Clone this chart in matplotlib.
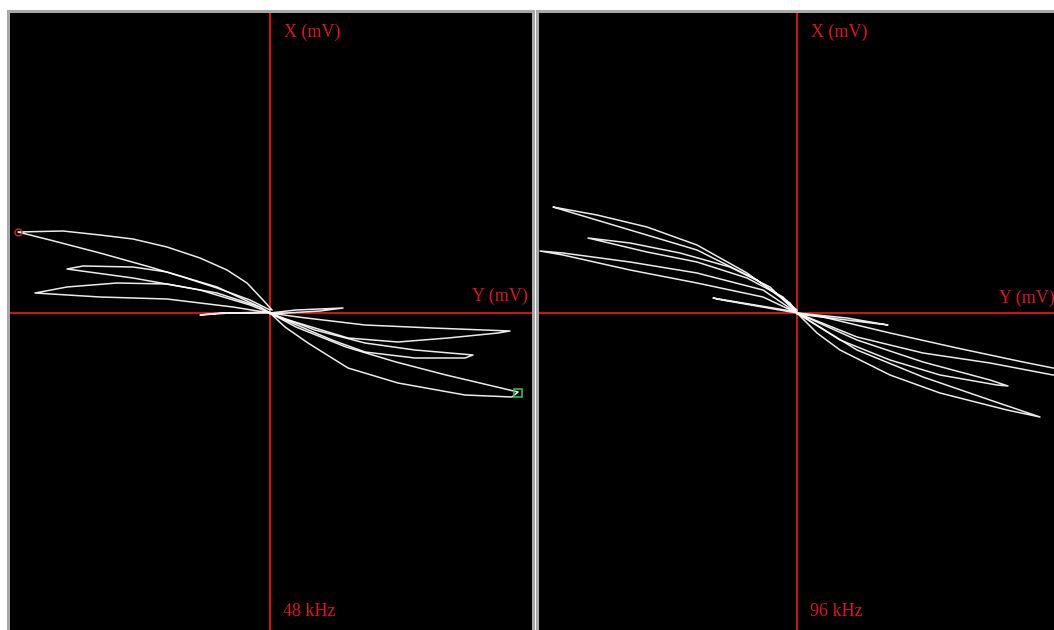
import matplotlib
matplotlib.use("Agg")
import matplotlib.pyplot as plt

# ---- data (mV) ----
# Left panel (48 kHz): loops traced by the XY display
left_loops_x = [
    [0.2, -0.7, -2.3, -4.3, -7.0, -10.3, -13.7, -17.0, -20.7, -25.2,
     -22.0, -17.0, -12.0, -8.7, -5.3, -2.0, 0],
    [0, -1.0, -5.3, -10.3, -13.7, -18.7, -20.3, -13.7, -7.0, -2.0, 0],
    [0, -1.0, -5.3, -10.3, -15.3, -20.3, -23.5, -17.0, -10.3, -3.7, 0],
    [0, -5.0, -7.0, -4.0, 0],
    [0, 2.6, 7.3, 5.0, 0],
    [0, 2.8, 9.5, 16.2, 24.0, 22.8, 17.8, 12.8, 7.8, 3.5, 0.8, 0],
    [0, 4.5, 9.5, 14.5, 20.3, 19.5, 14.5, 9.5, 6.2, 2.2, 0],
    [0, 2.6, 7.6, 12.6, 17.6, 24.8, 24.2, 19.5, 12.8, 7.8, 3.8, 1.5, 0],
]
left_loops_y = [
    [0.3, 1.3, 3.0, 4.3, 5.5, 6.6, 7.4, 7.8, 8.2, 8.1,
     7.3, 6.0, 4.6, 3.6, 2.5, 1.3, 0.3],
    [0, 0.6, 2.6, 4.1, 4.6, 4.7, 4.4, 3.5, 2.3, 0.8, 0],
    [0, 0.6, 2.0, 2.9, 3.0, 2.6, 2.0, 1.6, 1.4, 0.6, 0],
    [0, 0.0, -0.2, 0.0, 0.1],
    [0, 0.3, 0.5, 0.2, -0.1],
    [0, -0.4, -1.2, -1.5, -1.8, -2.0, -2.5, -2.9, -2.5, -1.2, -0.4, 0],
    [0, -1.7, -3.0, -3.7, -4.2, -4.5, -4.5, -3.9, -2.7, -1.0, 0],
    [0, -1.4, -3.4, -4.9, -6.2, -7.9, -8.4, -8.2, -7.0, -5.5, -3.0, -1.4, 0],
]
left_start = (-25.2, 8.1)   # red circle marker
left_end = (24.8, -8.0)     # green square marker

# Right panel (96 kHz)
right_loops_x = [
    [0, -1.7, -5.0, -10.0, -15.0, -20.0, -24.4, -23.4, -16.7, -10.0, -4.0, -0.7, 0],
    [0, -2.7, -6.7, -11.7, -16.7, -20.9, -15.0, -10.0, -5.0, -1.4, 0],
    [0, -3.4, -10.0, -16.7, -23.4, -25.7, -23.4, -16.7, -10.0, -3.4, 0],
    [0, -8.4, -7.5, 0],
    [0, 5.0, 9.1, 6.6, 0],
    [0, 2.6, 9.3, 16.0, 22.6, 25.6, 28.5, 25.6, 19.3, 12.6, 6.0, 0],
    [0, 6.0, 12.6, 19.3, 21.1, 20.0, 14.3, 9.3, 4.3, 0],
    [0, 6.0, 12.6, 19.3, 24.3, 21.0, 14.3, 9.3, 4.3, 2.0, 0],
]
right_loops_y = [
    [0.3, 1.6, 4.0, 6.8, 8.6, 9.8, 10.6, 10.3, 8.3, 6.3, 3.3, 1.0, 0],
    [0, 2.6, 4.6, 6.0, 7.0, 7.5, 6.1, 5.1, 3.5, 1.6, 0],
    [0, 2.3, 4.0, 5.1, 6.0, 6.2, 5.8, 4.3, 3.0, 1.6, 0],
    [0.1, 1.5, 1.3, 0],
    [0, -0.5, -1.2, -0.9, -0.1],
    [0, -0.4, -2.0, -3.5, -4.9, -5.5, -5.9, -6.2, -5.0, -4.0, -2.4, 0],
    [0, -2.7, -4.9, -6.7, -7.3, -7.2, -6.2, -4.7, -2.7, 0],
    [0, -3.7, -6.4, -8.7, -10.4, -9.7, -8.0, -6.2, -3.7, -2.0, 0],
]

panel_labels = ["48 kHz", "96 kHz"]
x_label = "X (mV)"
y_label = "Y (mV)"

# ---- figure ----
W, H = 1054, 630
fig = plt.figure(figsize=(W / 100, H / 100), dpi=100, facecolor="white")

RED = "#ff1414"
TXT = "#e0141c"
FONT = "Liberation Serif"


def make_panel(left_px, origin_px, loops_x, loops_y, label):
    ax = fig.add_axes([left_px / W, 0, 525 / W, 619 / H])
    ax.set_facecolor("black")
    x0 = (left_px - origin_px) / 10
    ax.set_xlim(x0, x0 + 52.5)
    ax.set_ylim(-31.7, 30.2)
    ax.set_xticks([])
    ax.set_yticks([])
    for s in ax.spines.values():
        s.set_color("#a8a8a8")
        s.set_linewidth(2.2)
    ax.spines["bottom"].set_visible(False)
    ax.axhline(0, color=RED, lw=1.2, zorder=1)
    ax.axvline(0, color=RED, lw=1.2, zorder=1)
    for xs, ys in zip(loops_x, loops_y):
        ax.plot(xs, ys, color="white", lw=1.1, zorder=2,
                solid_joinstyle="round", alpha=0.92)
    ax.text(1.4, 28.1, x_label, color=TXT, fontsize=13, family=FONT,
            ha="left", va="center")
    ax.text(1.3, -29.8, label, color=TXT, fontsize=13, family=FONT,
            ha="left", va="center")
    return ax


axL = make_panel(8, 270, left_loops_x, left_loops_y, panel_labels[0])
axL.text(25.8, 1.7, y_label, color=TXT, fontsize=13, family=FONT,
         ha="right", va="center")
axL.plot(*left_start, marker="o", ms=5, mfc="none", mec="#c03030", mew=1.0, zorder=3)
axL.plot(*left_end, marker="s", ms=6, mfc="none", mec="#30c040", mew=1.2, zorder=3)

axR = make_panel(537, 797, right_loops_x, right_loops_y, panel_labels[1])
axR.text(20.2, 1.5, y_label, color=TXT, fontsize=13, family=FONT,
         ha="left", va="center")

fig.savefig("out.png", dpi=100, facecolor="white")
